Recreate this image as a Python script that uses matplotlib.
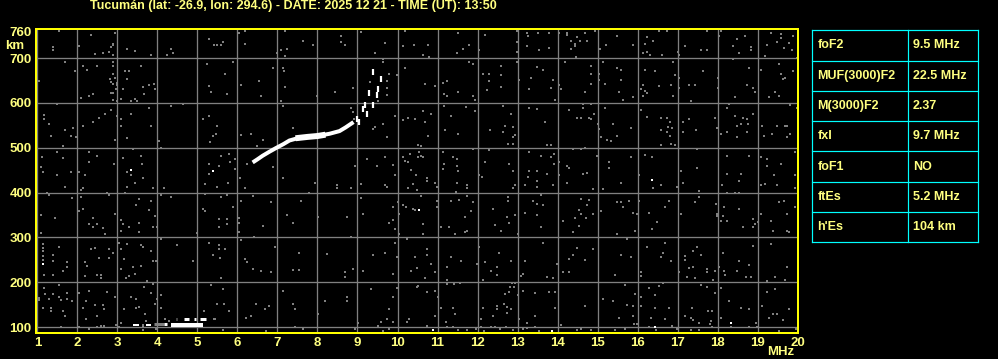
import numpy as np
import matplotlib
matplotlib.use("Agg")
import matplotlib.pyplot as plt

title = "Tucumán (lat: -26.9, lon: 294.6) - DATE: 2025 12 21 - TIME (UT): 13:50"

freq_ticks = list(range(1, 21))
km_ticks = [100, 200, 300, 400, 500, 600, 700, 760]

# F-layer trace (white)
f_trace_f = [6.38, 6.50, 6.63, 6.80, 6.96, 7.15, 7.30, 7.50, 7.75, 8.00, 8.30, 8.55, 8.70, 8.80, 8.90]
f_trace_km = [467, 474, 482, 491, 499, 508, 516, 521, 524, 526, 531, 537, 545, 551, 557]
f_thick_f = [7.45, 7.75, 8.00, 8.20]
f_thick_km = [521, 524, 526, 529]

# broken echoes near foF2 / fxI
dash_f = [8.98, 9.13, 9.19, 9.29, 9.38, 9.04, 9.25, 9.39, 9.48, 9.52, 9.58]
dash_km = [565, 586, 595, 623, 668, 557, 575, 595, 618, 631, 653]

# sporadic E trace segments: (start MHz, end MHz, km, width px, colour)
es_start = [3.38, 3.61, 3.71, 3.92, 4.17, 4.34, 4.46, 4.67, 4.92, 5.06, 5.38]
es_end = [3.54, 3.65, 3.84, 4.17, 4.25, 5.15, 4.50, 4.79, 4.96, 5.21, 5.46]
es_km = [104, 105, 104, 107, 106, 105, 117, 118, 118, 118, 117]
es_width = [2, 3, 2, 3, 3, 4, 3, 3, 3, 3, 2]
es_color = ["w", "w", "w", "#808080", "w", "w", "#808080", "w", "w", "w", "#808080"]

# isolated white pixels
white_f = [5.38, 3.34, 1.13, 10.54, 10.88, 16.37, 13.87, 16.43, 18.33]
white_km = [449, 450, 240, 361, 94, 429, 91, 99, 108]

# grey noise pixels, 1-7 MHz
noise_a = [
    (1.53, 761), (2.34, 752), (2.94, 756), (1.38, 724), (1.38, 717), (2.03, 726), (2.44, 708), (2.63, 711),
    (2.78, 713), (2.88, 732), (2.89, 728), (2.83, 724), (2.89, 707), (3.23, 720), (3.43, 716), (3.84, 707),
    (4.34, 720), (4.38, 711), (4.24, 707), (5.28, 743), (5.42, 728), (5.50, 730), (5.63, 735), (5.60, 728),
    (6.03, 756), (6.19, 732), (6.19, 761), (6.98, 711), (7.09, 717), (7.19, 761), (7.19, 704), (7.23, 720),
    (1.69, 692), (1.94, 670), (2.13, 683), (2.23, 674), (2.48, 683), (2.89, 692), (2.88, 683), (2.90, 665),
    (2.81, 653), (2.84, 646), (2.88, 642), (2.94, 655), (2.98, 639), (3.00, 645), (2.84, 622), (2.88, 622),
    (2.96, 631), (3.13, 631), (3.28, 672), (3.19, 670), (3.24, 653), (3.59, 683), (3.63, 636), (3.78, 639),
    (3.92, 642), (3.94, 630), (3.67, 620), (1.03, 648), (2.39, 620), (2.28, 616), (2.09, 610), (2.89, 607),
    (2.98, 605), (3.09, 609), (3.35, 603), (3.44, 609), (3.49, 605), (5.24, 687), (5.28, 637), (5.34, 624),
    (5.69, 665), (5.88, 692), (5.75, 620), (6.09, 639), (6.53, 648), (6.59, 616), (6.88, 677), (7.13, 677),
    (7.17, 672), (7.19, 635), (7.09, 603),
    (0.98, 589), (1.17, 573), (1.17, 563), (1.28, 553), (1.48, 598), (1.69, 540), (1.88, 544), (1.34, 527),
    (1.84, 527), (1.96, 523), (2.13, 549), (2.38, 558), (2.53, 566), (2.69, 575), (2.84, 585), (2.98, 570),
    (3.09, 563), (3.09, 549), (3.34, 575), (3.78, 589), (3.84, 549), (3.23, 522), (2.94, 518), (4.34, 592),
    (4.63, 598), (4.03, 516), (5.13, 563), (5.28, 570), (5.46, 531), (5.38, 526), (5.50, 548), (5.32, 512),
    (6.09, 529), (6.34, 531), (6.63, 517), (7.13, 594),
    (1.11, 480), (1.63, 503), (1.48, 490), (1.63, 477), (2.28, 490), (2.49, 482), (2.28, 468), (2.04, 445),
    (2.19, 438), (1.84, 445), (1.48, 438), (1.09, 456), (1.13, 445), (2.92, 464), (3.14, 477), (3.23, 445),
    (3.34, 438), (3.61, 464), (3.59, 482), (3.64, 433), (3.38, 496), (4.09, 500), (5.28, 464), (5.29, 442),
    (5.53, 460), (5.59, 482), (5.78, 486), (5.81, 468), (5.94, 474), (5.94, 453), (6.06, 433), (6.88, 456),
    (6.25, 464), (6.50, 503), (7.13, 433),
    (1.69, 413), (2.09, 405), (2.13, 410), (1.24, 398), (1.28, 395), (1.86, 387), (2.74, 398), (2.78, 395),
    (3.19, 400), (3.23, 413), (3.44, 422), (3.88, 410), (4.17, 410), (2.09, 390), (2.03, 359), (2.13, 363),
    (1.44, 344), (1.09, 350), (2.38, 344), (2.38, 322), (2.29, 329), (2.48, 329), (2.63, 320), (2.68, 307),
    (2.94, 353), (3.09, 338), (3.14, 329), (3.09, 314), (3.28, 322), (3.46, 372), (3.53, 385), (3.84, 380),
    (3.78, 361), (3.94, 348), (3.88, 323), (3.98, 322), (3.53, 333), (3.53, 313), (4.09, 395), (4.34, 389),
    (4.98, 309), (5.19, 419), (5.50, 413), (5.77, 422), (5.19, 396), (5.59, 389), (5.74, 395), (6.38, 393),
    (6.19, 410), (6.09, 381), (5.88, 368), (5.13, 363), (5.19, 359), (5.53, 342), (5.73, 342), (5.73, 329),
    (5.53, 322), (6.03, 344), (6.03, 331), (6.64, 326), (6.84, 378), (7.23, 350), (6.03, 311), (6.42, 301),
    (1.08, 309),
    (1.13, 285), (1.13, 277), (1.13, 270), (1.13, 259), (1.13, 249), (1.38, 261), (1.38, 248), (1.53, 279),
    (1.73, 246), (1.73, 234), (1.64, 225), (1.17, 216), (1.38, 216), (2.34, 274), (2.44, 277), (2.53, 255),
    (2.78, 274), (2.78, 255), (2.88, 266), (2.19, 244), (2.23, 236), (2.19, 214), (2.48, 216), (2.59, 216),
    (2.59, 210), (3.03, 288), (3.23, 285), (3.09, 274), (3.17, 251), (3.09, 229), (3.38, 233), (3.29, 214),
    (3.21, 210), (3.59, 283), (3.63, 279), (3.84, 270), (3.88, 248), (3.96, 248), (3.59, 236), (3.44, 218),
    (4.09, 296), (4.48, 283), (4.88, 248), (5.28, 288), (5.53, 283), (5.53, 274), (5.69, 274), (5.38, 261),
    (5.57, 253), (5.59, 210), (6.10, 294), (6.19, 251), (6.24, 244), (6.38, 229), (6.59, 225), (6.84, 222),
    (6.94, 279), (7.13, 181),
    (1.17, 187), (1.19, 173), (1.03, 164), (1.03, 160), (1.28, 162), (1.39, 173), (1.53, 166), (1.59, 160),
    (1.73, 175), (1.73, 162), (1.86, 157), (1.14, 143), (1.34, 143), (1.34, 135), (1.53, 194), (1.63, 136),
    (1.69, 125), (2.03, 175), (2.29, 181), (2.21, 158), (2.13, 143), (2.21, 117), (2.48, 125), (2.44, 149),
    (2.63, 149), (2.67, 140), (2.73, 177), (2.94, 166), (3.17, 140), (3.09, 110), (3.34, 167), (3.46, 162),
    (3.46, 143), (3.53, 145), (3.67, 190), (3.73, 203), (3.84, 175), (3.88, 196), (4.00, 162), (3.94, 152),
    (4.09, 143), (4.09, 172), (3.69, 130), (3.71, 114), (4.19, 117), (4.29, 114), (5.17, 135), (5.34, 194),
    (5.63, 184), (5.50, 151), (5.67, 151), (5.78, 136), (6.21, 121), (6.34, 125), (6.46, 151), (6.69, 140),
    (6.78, 147),
    (1.59, 99), (2.04, 99), (2.29, 95), (2.48, 99), (2.59, 103), (2.67, 103), (2.96, 105), (3.04, 99),
    (3.63, 94), (3.96, 95), (5.63, 94), (6.71, 90),
]

# grey noise pixels, 7-13.5 MHz
noise_b = [
    (7.63, 739), (7.88, 730), (8.58, 749), (8.58, 735), (8.69, 730), (9.09, 759), (9.69, 734), (9.44, 711),
    (9.63, 697), (9.63, 692), (10.19, 761), (10.13, 726), (10.41, 730), (10.77, 730), (10.63, 707), (10.79, 702),
    (11.52, 756), (11.48, 711), (11.63, 720), (11.79, 729), (12.04, 717), (12.19, 752), (12.98, 761), (13.23, 756),
    (13.27, 750), (13.24, 726), (13.52, 756), (13.54, 717), (12.99, 735), (12.98, 713), (12.98, 691),
    (8.44, 625), (8.88, 633), (7.98, 616), (9.31, 646), (9.73, 648), (9.73, 633), (9.73, 618), (9.79, 665),
    (9.98, 661), (10.19, 677), (10.69, 642), (10.94, 637), (11.13, 644), (11.23, 648), (11.17, 620), (11.23, 616),
    (11.52, 625), (11.79, 692), (11.88, 687), (12.13, 665), (12.29, 665), (12.29, 648), (12.58, 682), (12.58, 661),
    (12.58, 635), (12.23, 629), (11.88, 616), (11.94, 607), (13.04, 652), (13.33, 655), (13.29, 631), (13.48, 679),
    (13.63, 674),
    (7.38, 543), (8.83, 588), (8.88, 579), (8.92, 563), (9.38, 542), (9.44, 546), (9.52, 603), (9.63, 553),
    (9.73, 523), (9.94, 570), (10.13, 561), (10.27, 566), (10.44, 563), (10.64, 581), (10.69, 558), (10.83, 575),
    (10.77, 527), (11.16, 593), (11.33, 570), (11.19, 540), (11.52, 531), (11.71, 590), (11.94, 581), (12.31, 540),
    (12.63, 593), (12.64, 536), (12.69, 548), (12.83, 575), (12.88, 546), (12.89, 523), (12.94, 529), (12.88, 508),
    (12.77, 508), (13.29, 589), (13.48, 587),
    (8.94, 460), (9.23, 474), (9.48, 460), (9.69, 479), (9.88, 462), (9.94, 439), (10.14, 479), (10.19, 471),
    (10.27, 469), (10.31, 486), (10.50, 505), (10.59, 503), (10.50, 479), (10.58, 482), (10.64, 479), (10.54, 490),
    (10.33, 451), (10.46, 438), (10.73, 432), (11.13, 490), (11.16, 464), (11.13, 453), (11.38, 479), (11.48, 474),
    (11.52, 449), (11.48, 460), (11.88, 496), (12.04, 438), (12.10, 434), (12.29, 494), (12.19, 469), (12.79, 464),
    (12.88, 449), (13.29, 490), (13.29, 447), (13.27, 434), (13.48, 447), (13.58, 482),
    (7.94, 422), (8.48, 417), (8.48, 410), (8.83, 410), (9.08, 420), (9.69, 417), (9.73, 413), (10.27, 410),
    (10.38, 420), (10.48, 405), (10.73, 426), (10.94, 422), (10.98, 413), (11.48, 422), (11.73, 417), (11.73, 410),
    (10.58, 393), (7.58, 381), (7.79, 398), (9.09, 387), (9.13, 353), (9.88, 368), (10.02, 378), (10.14, 372),
    (10.21, 368), (10.39, 363), (10.44, 361), (10.04, 353), (10.98, 381), (10.98, 368), (11.34, 381), (11.54, 383),
    (11.88, 378), (11.84, 359), (11.69, 346), (11.46, 402), (11.73, 393), (12.38, 363), (12.77, 390), (12.77, 381),
    (12.88, 410), (12.94, 417), (13.19, 417), (13.48, 413), (13.48, 426), (13.58, 395), (13.38, 381), (13.48, 375),
    (13.63, 372), (13.19, 355), (13.48, 350), (8.02, 346), (8.73, 346), (7.38, 333), (9.79, 333), (9.88, 338),
    (9.94, 318), (10.04, 307), (10.63, 329), (10.63, 307), (11.09, 323), (11.29, 322), (11.44, 307), (11.69, 311),
    (11.73, 314), (12.58, 314), (12.44, 328), (12.73, 346), (12.94, 350), (12.79, 333), (13.02, 307), (13.58, 323),
    (8.83, 301),
    (10.23, 296), (9.94, 288), (7.54, 266), (8.23, 262), (7.38, 227), (7.54, 227), (8.69, 222), (8.69, 212),
    (8.88, 229), (9.13, 225), (9.38, 261), (9.69, 266), (9.88, 218), (9.98, 256), (10.33, 225), (10.44, 256),
    (10.48, 231), (10.73, 274), (10.73, 261), (10.83, 240), (10.94, 222), (10.69, 210), (11.34, 256), (11.23, 234),
    (11.58, 248), (12.04, 279), (11.98, 240), (12.19, 244), (12.34, 225), (12.48, 234), (12.54, 266), (12.49, 216),
    (12.83, 248), (13.19, 248), (13.09, 214), (13.13, 218), (13.63, 288),
    (11.23, 204), (11.23, 196), (11.42, 197), (11.56, 199), (12.13, 204), (12.85, 199), (12.91, 190), (12.94, 199),
    (12.81, 190), (7.38, 152), (7.44, 140), (8.02, 130), (8.19, 157), (8.73, 166), (8.73, 157), (9.33, 184),
    (9.88, 167), (9.98, 187), (9.79, 140), (9.88, 112), (9.73, 117), (10.52, 192), (10.48, 190), (10.73, 177),
    (10.94, 181), (11.02, 167), (11.08, 143), (11.38, 143), (11.44, 130), (11.21, 112), (10.94, 125), (10.29, 117),
    (10.23, 112), (9.58, 112), (9.52, 103), (9.02, 108), (12.13, 143), (12.08, 117), (12.38, 125), (12.48, 147),
    (12.48, 140), (12.67, 152), (12.73, 145), (12.84, 140), (12.74, 132), (12.69, 173), (12.79, 177), (13.02, 172),
    (13.13, 181), (13.44, 175), (13.44, 125), (13.04, 117), (13.23, 110),
    (7.44, 100), (7.63, 95), (8.94, 95), (9.64, 91), (9.79, 95), (10.73, 103), (11.23, 100), (11.38, 99),
    (11.50, 93), (11.73, 93), (11.96, 95), (12.08, 100), (12.16, 90), (12.33, 99), (12.44, 100), (12.56, 95),
    (12.71, 99), (12.89, 93), (13.14, 95), (13.24, 97), (13.44, 99), (13.54, 90),
]

# grey noise pixels, 13.5-20 MHz
noise_c = [
    (13.79, 756), (14.04, 756), (14.23, 756), (14.23, 752), (14.34, 739), (14.48, 746), (14.43, 732), (14.43, 726),
    (14.34, 720), (13.79, 722), (14.56, 737), (14.73, 739), (14.68, 756), (14.93, 761), (14.45, 702), (15.20, 729),
    (15.06, 720), (15.48, 749), (15.89, 730), (16.23, 746), (16.39, 739), (16.18, 732), (16.24, 713), (16.14, 711),
    (16.31, 707), (16.62, 707), (16.54, 761), (16.74, 761), (17.01, 714), (17.04, 707), (17.18, 726), (17.58, 717),
    (17.73, 717), (17.73, 761), (18.04, 749), (18.08, 761), (18.48, 743), (18.69, 749), (18.83, 724), (18.83, 717),
    (18.54, 711), (18.39, 726), (19.18, 704), (19.23, 729), (19.33, 756), (19.58, 754), (19.59, 744), (19.49, 735),
    (19.79, 734), (19.89, 750), (19.87, 717), (19.66, 722),
    (14.18, 691), (13.89, 652), (13.83, 633), (14.04, 639), (14.09, 630), (14.83, 682), (14.83, 665), (14.83, 642),
    (14.69, 624), (13.94, 607), (15.04, 665), (15.04, 650), (15.18, 642), (15.14, 692), (15.48, 677), (15.59, 674),
    (15.59, 652), (15.54, 625), (15.64, 607), (15.89, 613), (16.19, 674), (16.44, 670), (16.14, 640), (16.08, 630),
    (16.19, 627), (16.23, 622), (16.14, 616), (16.54, 637), (16.83, 639), (16.89, 616), (16.89, 692), (16.93, 662),
    (17.04, 655), (17.04, 633), (17.29, 639), (17.44, 639), (17.64, 670), (17.33, 603), (18.02, 655), (18.02, 633),
    (18.39, 698), (18.79, 677), (18.73, 639), (18.89, 633), (18.93, 625), (18.43, 613), (19.08, 674), (19.54, 687),
    (19.58, 665), (19.64, 653), (19.68, 655), (19.43, 625), (19.54, 616), (19.29, 613), (19.89, 670), (19.97, 700),
    (13.68, 557), (14.29, 585), (14.49, 566), (14.58, 566), (14.64, 588), (14.79, 566), (14.83, 563), (14.91, 575),
    (14.64, 598), (14.84, 598), (15.02, 553), (15.19, 589), (15.39, 553), (15.83, 543), (15.08, 523), (15.23, 518),
    (15.33, 514), (15.48, 527), (15.04, 542), (16.23, 568), (16.08, 585), (16.58, 566), (16.73, 566), (16.81, 558),
    (16.76, 546), (16.87, 543), (16.58, 540), (16.74, 536), (16.81, 527), (16.83, 508), (16.58, 505), (16.93, 506),
    (17.14, 558), (17.29, 563), (17.47, 540), (17.14, 536), (17.93, 566), (17.98, 543), (18.08, 531), (18.23, 536),
    (18.23, 588), (18.29, 598), (18.43, 570), (18.49, 549), (18.64, 566), (18.74, 564), (18.76, 553), (18.59, 553),
    (18.73, 535), (18.89, 575), (18.48, 523), (19.12, 549), (19.16, 526), (19.37, 531), (19.49, 549), (19.68, 549),
    (19.73, 549), (19.81, 531), (19.73, 523), (19.81, 595), (19.97, 588),
    (13.73, 505), (13.83, 505), (13.83, 479), (13.91, 486), (14.04, 468), (13.91, 464), (14.23, 460), (14.29, 454),
    (14.39, 496), (14.58, 496), (14.68, 499), (14.64, 442), (14.73, 444), (14.04, 438), (13.74, 442), (14.98, 482),
    (15.29, 468), (15.29, 454), (15.84, 479), (16.18, 484), (16.37, 479), (16.04, 438), (17.48, 497), (17.08, 449),
    (17.48, 454), (18.23, 482), (18.79, 482), (18.23, 442), (18.58, 442), (19.08, 479), (19.23, 474), (19.23, 460),
    (19.58, 464), (19.93, 491), (19.93, 438), (19.41, 438),
    (13.89, 417), (14.23, 422), (14.89, 407), (15.14, 407), (15.59, 422), (16.39, 410), (16.58, 417), (16.98, 413),
    (17.14, 422), (17.54, 404), (18.12, 417), (18.23, 400), (18.43, 400), (18.54, 400), (18.54, 426), (19.18, 420),
    (19.08, 417), (19.49, 417), (19.93, 410), (14.58, 385), (14.79, 383), (14.73, 372), (14.54, 361), (14.58, 352),
    (14.89, 352), (14.14, 337), (14.44, 343), (14.70, 343), (14.54, 326), (14.39, 311), (15.08, 359), (15.48, 378),
    (15.59, 378), (15.64, 368), (15.79, 381), (15.89, 355), (15.98, 352), (15.94, 314), (15.48, 307), (16.04, 381),
    (16.29, 355), (16.49, 335), (16.37, 318), (16.79, 381), (16.68, 368), (17.08, 353), (17.44, 378), (17.54, 390),
    (17.95, 375), (17.98, 353), (17.98, 348), (18.16, 368), (18.14, 348), (18.23, 337), (18.08, 337), (18.54, 363),
    (18.64, 323), (18.89, 340), (18.93, 329), (18.89, 322), (19.02, 335), (19.08, 352), (19.34, 337), (19.54, 378),
    (19.66, 381), (19.73, 352), (19.93, 368), (19.39, 314), (19.73, 314), (19.79, 311), (15.73, 296),
    (14.48, 277), (14.39, 261), (14.29, 251), (14.69, 249), (14.89, 274), (13.98, 240), (13.73, 212), (13.89, 209),
    (14.14, 222), (14.29, 222), (15.43, 216), (15.59, 261), (15.83, 256), (16.08, 222), (16.08, 214), (16.23, 279),
    (16.68, 288), (16.64, 266), (16.58, 256), (16.83, 248), (17.19, 259), (17.19, 249), (17.29, 231), (17.39, 234),
    (17.48, 279), (17.58, 261), (17.39, 270), (17.04, 222), (17.24, 212), (17.44, 209), (17.73, 229), (17.74, 222),
    (17.89, 204), (17.94, 225), (18.04, 234), (18.16, 225), (18.19, 216), (18.14, 266), (18.48, 225), (18.54, 248),
    (18.79, 239), (18.70, 212), (18.84, 212), (18.89, 281), (19.33, 285), (19.74, 234), (19.44, 212), (19.68, 204),
    (19.23, 203),
    (13.79, 177), (13.94, 177), (13.94, 143), (15.68, 194), (15.94, 173), (16.08, 167), (16.29, 186), (16.54, 192),
    (16.44, 172), (16.64, 199), (14.69, 147), (15.14, 162), (15.39, 157), (15.73, 149), (15.89, 147), (16.08, 147),
    (16.43, 142), (16.79, 142), (16.68, 117), (16.33, 120), (15.54, 120), (15.89, 125), (17.58, 194), (17.74, 190),
    (18.08, 188), (17.94, 175), (18.29, 157), (18.58, 143), (18.79, 140), (17.37, 143), (17.19, 125), (17.33, 121),
    (17.39, 115), (17.54, 108), (17.77, 135), (17.87, 135), (18.08, 120), (17.83, 114), (19.12, 147), (19.24, 177),
    (19.44, 184), (19.79, 140), (19.39, 130), (19.48, 130), (19.29, 120), (19.63, 115), (18.97, 110),
    (14.08, 105), (14.48, 93), (14.58, 95), (14.83, 93), (15.43, 94), (15.68, 95), (15.91, 106), (15.98, 106),
    (16.29, 99), (16.45, 94), (16.87, 103), (16.98, 95), (17.33, 93), (17.54, 93), (17.81, 106), (17.87, 99),
    (18.33, 99), (18.79, 99), (18.98, 99), (19.54, 92), (19.95, 95),
]

param_names = ["foF2", "MUF(3000)F2", "M(3000)F2", "fxI", "foF1", "ftEs", "h'Es"]
param_values = ["9.5 MHz", "22.5 MHz", "2.37", "9.7 MHz", "NO", "5.2 MHz", "104 km"]

txt = "#ffff80"
grey = "#808080"
font = ["Liberation Sans", "DejaVu Sans"]
px = 72 / 100  # one pixel in points

fig = plt.figure(figsize=(9.98, 3.59), dpi=100, facecolor="black")
ax = fig.add_axes([0.0358, 0.0724, 0.7635, 0.8468], facecolor="black")
ax.set_xlim(0.96, 20.0)
ax.set_ylim(86.6, 764.7)

for f in freq_ticks[:-1]:
    ax.axvline(f, color=grey, lw=1.3 * px, zorder=1)
for k in km_ticks[:-1]:
    ax.axhline(k, color=grey, lw=1.3 * px, zorder=1)

noise = np.array(noise_a + noise_b + noise_c)
ax.scatter(noise[:, 0], noise[:, 1], s=(2.8 * px) ** 2, marker="s", c=grey, linewidths=0, zorder=2)

ax.plot(f_trace_f, f_trace_km, color="white", lw=4 * px, solid_capstyle="butt", zorder=3)
ax.plot(f_thick_f, f_thick_km, color="white", lw=6 * px, solid_capstyle="butt", zorder=3)
ax.plot(dash_f, dash_km, ls="none", marker="|", ms=6 * px, mew=2.2 * px, color="white", zorder=3)
for a, b, k, w, c in zip(es_start, es_end, es_km, es_width, es_color):
    ax.plot([a, b], [k, k], color=c, lw=w * px, solid_capstyle="butt", zorder=3)
ax.scatter(white_f, white_km, s=(2.8 * px) ** 2, marker="s", c="white", linewidths=0, zorder=3)

for sp in ax.spines.values():
    sp.set_color("yellow")
    sp.set_linewidth(2 * px)
    sp.set_zorder(5)

ax.set_xticks(freq_ticks)
ax.set_xticklabels([str(f) for f in freq_ticks])
ax.set_yticks(km_ticks)
ax.set_yticklabels([str(k) for k in km_ticks])
ax.tick_params(length=0, pad=3, colors=txt)
for lab in ax.get_xticklabels() + ax.get_yticklabels():
    lab.set_family(font)
    lab.set_fontweight("bold")
    lab.set_fontsize(9.5)
    lab.set_color(txt)

fig.text(0.005, 0.872, "km", color=txt, fontsize=9.5, fontweight="bold", family=font, ha="left", va="center")
fig.text(0.769, 0.020, "MHz", color=txt, fontsize=9.5, fontweight="bold", family=font, ha="left", va="center")
fig.text(0.090, 0.982, title, color=txt, fontsize=9, fontweight="bold", family=font, ha="left", va="center")

# parameter table
tab = fig.add_axes([0.8136, 0.3251, 0.1663, 0.5905], facecolor="black")
tab.set_xlim(0, 1)
tab.set_ylim(0, len(param_names))
tab.axis("off")
n = len(param_names)
for i in range(n + 1):
    tab.plot([0, 1], [i, i], color="#00ffff", lw=1.2 * px, clip_on=False)
for xv in [0, 0.5765, 1]:
    tab.plot([xv, xv], [0, n], color="#00ffff", lw=1.2 * px, clip_on=False)
for i, (name, val) in enumerate(zip(param_names, param_values)):
    y = n - i - 0.5
    tab.text(0.034, y, name, color=txt, fontsize=9, fontweight="bold", family=font, va="center")
    tab.text(0.607, y, val, color=txt, fontsize=9, fontweight="bold", family=font, va="center")

fig.savefig("out.png", dpi=100, facecolor="black")
